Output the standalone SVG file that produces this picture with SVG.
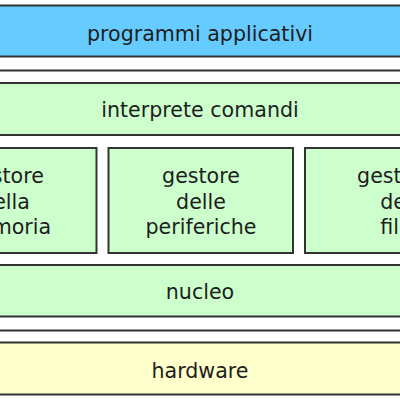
<svg xmlns="http://www.w3.org/2000/svg" width="400" height="400" viewBox="0 0 400 400">
<style>
.box{stroke:#333333;stroke-width:2}
.blue{fill:#66ccff}
.green{fill:#ccffcc}
.yellow{fill:#ffffcc}
.sep{stroke:#333333;stroke-width:2;fill:none}
text{font-family:"DejaVu Sans","Liberation Sans",sans-serif;font-size:20.6px;fill:#1e1e1e;text-anchor:middle}
</style>
<rect x="0" y="0" width="400" height="400" fill="#ffffff"/>
<g id="programmi">
<rect class="box blue" x="-5" y="5.5" width="410" height="51"/>
<text x="200" y="40.5">programmi applicativi</text>
</g>
<g id="separators">
<line class="sep" x1="-5" y1="70.5" x2="405" y2="70.5"/>
<line class="sep" x1="-5" y1="330.5" x2="405" y2="330.5"/>
</g>
<g id="interprete">
<rect class="box green" x="-5" y="83" width="410" height="52"/>
<text x="200" y="117">interprete comandi</text>
</g>
<g id="memoria">
<rect class="box green" x="-88" y="148" width="184.5" height="105"/>
<text x="5" y="183">gestore</text>
<text x="5" y="209">della</text>
<text x="5" y="234">memoria</text>
</g>
<g id="periferiche">
<rect class="box green" x="108.5" y="148" width="184.5" height="105"/>
<text x="201" y="183">gestore</text>
<text x="201" y="209">delle</text>
<text x="201" y="234">periferiche</text>
</g>
<g id="file">
<rect class="box green" x="305" y="148" width="184.5" height="105"/>
<text x="396" y="183">gestore</text>
<text x="396" y="209">dei</text>
<text x="396" y="234">file</text>
</g>
<g id="nucleo">
<rect class="box green" x="-5" y="265" width="410" height="51.5"/>
<text x="200" y="299">nucleo</text>
</g>
<g id="hardware">
<rect class="box yellow" x="-5" y="342.5" width="410" height="52"/>
<text x="200" y="378">hardware</text>
</g>
</svg>
